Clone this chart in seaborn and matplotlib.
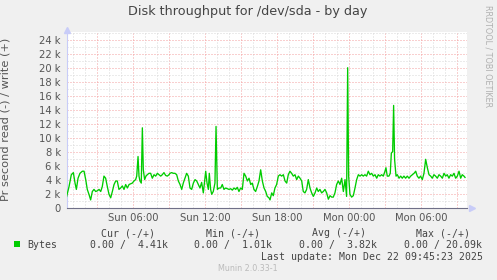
import numpy as np
import pandas as pd
import matplotlib
matplotlib.use("Agg")
import matplotlib.pyplot as plt
import matplotlib.dates as mdates
from matplotlib.ticker import MultipleLocator, FuncFormatter
import seaborn as sns

# ---- data (hours after Sun 2025-12-21 00:00, throughput in k bytes/s) ----
hours = [
    0.47, 0.67, 0.86, 1.03, 1.17, 1.28, 1.42, 1.58, 1.78, 1.92, 2.06, 2.19, 2.33, 2.47,
    2.61, 2.75, 2.89, 3.03, 3.17, 3.31, 3.44, 3.58, 3.72, 3.86, 4.00, 4.14, 4.28, 4.42,
    4.56, 4.69, 4.83, 4.97, 5.11, 5.25, 5.39, 5.53, 5.67, 5.81, 5.94, 6.08, 6.22, 6.31,
    6.42, 6.50, 6.58, 6.69, 6.78, 6.86, 6.97, 7.08, 7.19, 7.33, 7.47, 7.61, 7.75, 7.89,
    8.03, 8.17, 8.31, 8.44, 8.58, 8.72, 8.86, 9.00,
    9.08, 9.22, 9.36, 9.50, 9.64, 9.78, 9.92, 10.06, 10.19, 10.33, 10.47, 10.61, 10.75,
    10.89, 11.03, 11.17, 11.31, 11.44, 11.58, 11.72, 11.86, 11.94, 12.06, 12.17, 12.28,
    12.36, 12.47, 12.56, 12.69, 12.83, 12.92, 13.03, 13.17, 13.31, 13.44, 13.58, 13.72,
    13.86, 14.00, 14.14, 14.28, 14.42, 14.56, 14.69, 14.83, 14.97, 15.11, 15.25, 15.39,
    15.53, 15.67, 15.81, 15.94, 16.08, 16.22, 16.36, 16.50, 16.64, 16.78, 16.92, 17.06,
    17.19, 17.33,
    17.42, 17.56, 17.69, 17.83, 17.97, 18.11, 18.25, 18.39, 18.53, 18.67, 18.81, 18.94,
    19.08, 19.22, 19.36, 19.50, 19.64, 19.78, 19.92, 20.06, 20.19, 20.33, 20.47, 20.61,
    20.75, 20.89, 21.03, 21.17, 21.31, 21.44, 21.58, 21.72, 21.86, 22.00, 22.14, 22.28,
    22.42, 22.56, 22.69, 22.83, 22.97, 23.11, 23.25, 23.39, 23.53, 23.67, 23.80, 23.89,
    23.97, 24.08, 24.22, 24.36, 24.50, 24.64, 24.78, 24.92, 25.06, 25.19, 25.33, 25.47,
    25.61,
    25.75, 25.89, 26.03, 26.17, 26.31, 26.44, 26.58, 26.72, 26.86, 27.00, 27.08, 27.19,
    27.33, 27.44, 27.53, 27.64, 27.72, 27.80, 27.92, 28.03, 28.17, 28.31, 28.44, 28.58,
    28.72, 28.86, 29.00, 29.14, 29.28, 29.42, 29.56, 29.69, 29.83, 29.97, 30.11, 30.25,
    30.39, 30.53, 30.67, 30.81, 30.94, 31.08, 31.22, 31.36, 31.50, 31.64, 31.78, 31.92,
    32.06, 32.19, 32.33, 32.47, 32.61, 32.75, 32.89, 33.03, 33.17, 33.31, 33.44, 33.58,
    33.67,
]
write_k = [
    1.7, 3.1, 4.8, 5.1, 3.6, 2.7, 4.3, 5.0, 5.3, 5.3, 4.1, 2.7, 2.0, 1.2,
    2.4, 2.7, 2.4, 2.5, 2.7, 2.4, 3.1, 4.6, 4.3, 3.1, 2.0, 1.5, 2.4, 3.4,
    3.9, 3.9, 2.7, 2.9, 3.2, 2.7, 3.4, 2.9, 3.4, 3.5, 3.6, 3.9, 4.1, 4.6,
    7.4, 4.6, 3.9, 3.6, 11.5, 5.5, 4.1, 4.6, 4.8, 5.0, 5.0, 4.3, 4.8, 4.6,
    5.0, 4.8, 4.6, 4.8, 5.1, 4.7, 4.6, 4.8,
    5.0, 5.1, 5.0, 5.0, 4.8, 3.9, 3.4, 2.7, 3.6, 4.3, 5.0, 4.6, 2.9,
    2.7, 3.6, 4.1, 3.9, 3.4, 2.9, 3.7, 2.2, 3.4, 5.3, 3.6, 2.7,
    5.0, 2.7, 2.0, 2.4, 3.6, 11.7, 2.7, 2.9, 2.9, 3.4, 2.7, 2.9,
    2.8, 2.7, 2.8, 2.6, 2.9, 2.7, 3.0, 2.4, 2.9, 2.7, 5.0, 4.6,
    3.9, 4.3, 3.4, 3.6, 2.7, 2.4, 3.1, 3.9, 5.5, 3.9, 2.9, 2.4,
    1.7, 1.5,
    1.2, 2.2, 1.8, 2.9, 3.4, 4.6, 4.8, 4.6, 4.8, 3.9, 3.6, 4.8,
    5.3, 5.0, 4.6, 4.8, 4.1, 4.6, 4.3, 3.9, 2.4, 2.2, 2.7, 4.1,
    2.9, 2.2, 1.7, 2.2, 2.9, 2.4, 2.7, 2.2, 2.4, 2.7, 2.2, 1.3,
    1.8, 1.6, 1.6, 2.2, 3.4, 3.9, 3.4, 4.3, 2.4, 4.1, 1.7, 20.09,
    4.6, 2.0, 1.6, 1.8, 2.9, 4.1, 4.8, 4.6, 4.8, 4.6, 4.8, 4.6,
    5.3,
    4.8, 5.0, 4.6, 4.8, 4.3, 4.8, 4.6, 4.8, 4.6, 5.3, 5.8, 4.6,
    4.6, 5.0, 7.9, 8.1, 14.7, 7.0, 4.6, 4.8, 4.3, 4.6, 4.3, 4.6,
    4.3, 4.6, 4.3, 4.6, 4.8, 5.0, 5.3, 4.6, 4.3, 4.6, 4.1, 5.0,
    7.0, 5.8, 4.8, 4.6, 4.3, 4.8, 4.6, 4.3, 4.8, 4.6, 4.3, 5.0,
    4.6, 4.8, 4.3, 4.8, 4.6, 5.0, 4.3, 4.6, 5.3, 4.3, 4.8, 4.6,
    4.41,
]
y_ticks_k = [0, 2, 4, 6, 8, 10, 12, 14, 16, 18, 20, 22, 24]
legend_cols = ["Cur (-/+)", "Min (-/+)", "Avg (-/+)", "Max (-/+)"]
legend_vals = ["0.00 /  4.41k", "0.00 /  1.01k", "0.00 /  3.82k", "0.00 / 20.09k"]
series_name = "Bytes"
title = "Disk throughput for /dev/sda - by day"
ylabel = "Pr second read (-) / write (+)"
last_update = "Last update: Mon Dec 22 09:45:23 2025"
version = "Munin 2.0.33-1"
side_text = "RRDTOOL / TOBI OETIKER"

start = pd.Timestamp("2025-12-21 00:00")
df = pd.DataFrame({
    "time": start + pd.to_timedelta(hours, unit="h"),
    "value": write_k,
})

# ---- figure ----
W, H = 497, 280
fig = plt.figure(figsize=(W / 100, H / 100), dpi=100, facecolor="#F0F0F0")
px = lambda x: x / W
py = lambda y: 1 - y / H

ax_l, ax_r, ax_t, ax_b = 66.7, 466.7, 32.3, 208.3
ax = fig.add_axes([px(ax_l), py(ax_b), (ax_r - ax_l) / W, (ax_b - ax_t) / H])
ax.set_facecolor("white")

sns.lineplot(data=df, x="time", y="value", ax=ax, color="#00CC00",
             linewidth=0.95, zorder=5)

x0 = start + pd.Timedelta(hours=0.475)
x1 = start + pd.Timedelta(hours=33.81)
ax.set_xlim(x0, x1)
ax.set_ylim(0, 25.15)

# grids
ax.xaxis.set_major_locator(mdates.HourLocator(byhour=range(0, 24, 3)))
ax.xaxis.set_minor_locator(mdates.HourLocator())
def xfmt(v, pos):
    d = mdates.num2date(v)
    return d.strftime("%a %H:%M") if d.hour % 6 == 0 else ""
ax.xaxis.set_major_formatter(FuncFormatter(xfmt))
ax.set_yticks(y_ticks_k)
ax.yaxis.set_minor_locator(MultipleLocator(1))
ax.yaxis.set_major_formatter(FuncFormatter(lambda v, p: "0" if v == 0 else f"{v:g} k"))

ax.grid(which="minor", color="#D8D8D8", linestyle=(0, (1, 2)), linewidth=0.72)
ax.grid(which="major", color="#F4A0A0", linestyle=(0, (1, 2)), linewidth=0.72)
ax.set_axisbelow(True)

ax.tick_params(axis="both", which="both", length=0)
ax.tick_params(axis="y", which="major", labelsize=7.2, labelcolor="#555555", pad=4.3)
ax.tick_params(axis="x", which="major", labelsize=7.2, labelcolor="#555555", pad=3.2)

for s in ["top", "right"]:
    ax.spines[s].set_visible(False)
ax.spines["left"].set_color("#C8CCF8")
ax.spines["left"].set_linewidth(0.8)
ax.spines["bottom"].set_color("#707088")
ax.spines["bottom"].set_linewidth(0.8)
ax.spines["bottom"].set_zorder(6)

# axis arrows
ax.plot([0], [1.015], marker="^", color="#C8CCF8", markersize=4, transform=ax.transAxes, clip_on=False)
ax.plot([1.012], [0], marker=">", color="#C8CCF8", markersize=4, transform=ax.transAxes, clip_on=False)

ax.set_xlabel("")
ax.set_ylabel(ylabel, fontsize=8.2, color="#555555")
ax.yaxis.set_label_coords((10.5 - ax_l) / (ax_r - ax_l), (ax_b - 119.5) / (ax_b - ax_t))

# title
fig.text(px(248), py(12), title, ha="center", va="center", fontsize=9.2, color="#444444")
# side text
fig.text(px(488), py(56), side_text, ha="center", va="center", rotation=270,
         fontsize=5.8, color="#B0B0B0")

mono = "DejaVu Sans Mono"
fs = 7.1
# legend
fig.patches.append(plt.Rectangle((px(14), py(247)), 6 / W, 6 / H, transform=fig.transFigure,
                                 facecolor="#00CC00", edgecolor="none"))
fig.text(px(27), py(245.3), series_name, ha="left", va="center", family=mono, fontsize=fs, color="#444444")
col_centers = [128, 233.5, 339, 443.5]
val_lefts = [89.7, 194.3, 299.3, 404.3]
for c, lab in zip(col_centers, legend_cols):
    fig.text(px(c), py(233.3), lab, ha="center", va="center", family=mono, fontsize=fs, color="#444444")
for l, v in zip(val_lefts, legend_vals):
    fig.text(px(l), py(245.3), v, ha="left", va="center", family=mono, fontsize=fs, color="#444444")
fig.text(px(482.7), py(257.3), last_update, ha="right", va="center", family=mono, fontsize=fs, color="#444444")
fig.text(px(248), py(268.5), version, ha="center", va="center", fontsize=5.8, color="#BBBBBB")

fig.savefig("out.png", dpi=100, facecolor=fig.get_facecolor())
